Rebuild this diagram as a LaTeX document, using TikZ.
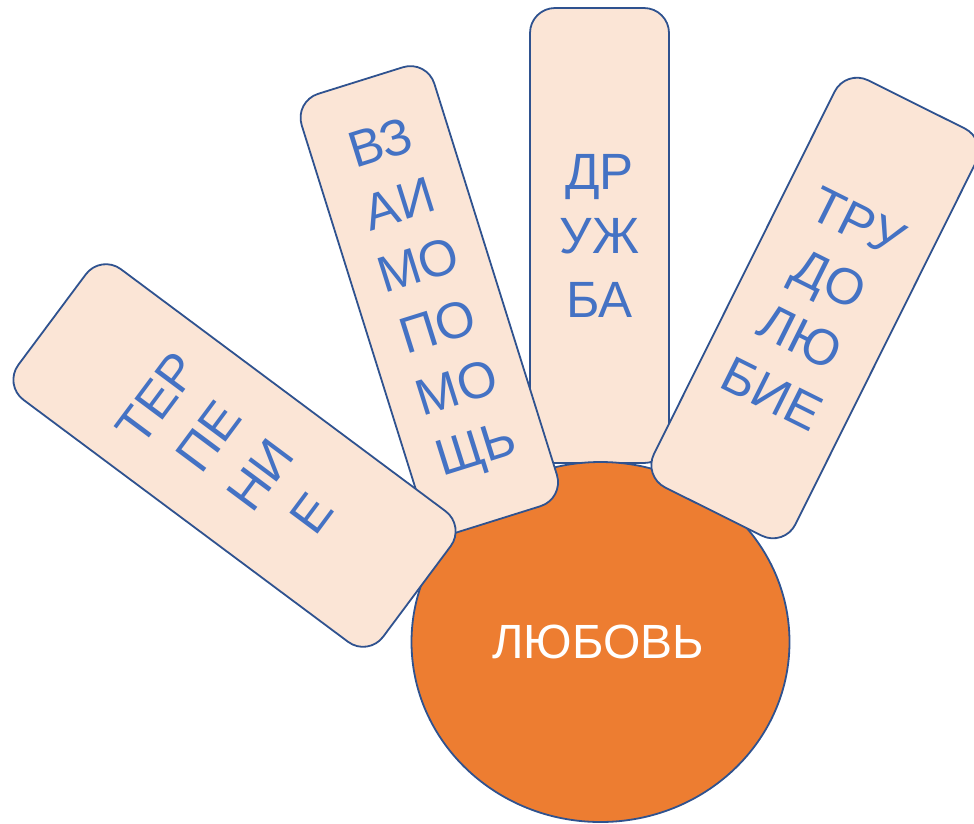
\documentclass[tikz,border=0pt]{standalone}
\usepackage{fontspec}
\setmainfont{Liberation Sans}
\usetikzlibrary{shapes.geometric}
\definecolor{edgeblue}{HTML}{2F528F}
\definecolor{peach}{HTML}{FBE5D6}
\definecolor{txtblue}{HTML}{4472C4}
\definecolor{orangefill}{HTML}{ED7D31}
\tikzset{
  card/.style={draw=edgeblue, line width=1.8pt, fill=peach, rectangle,
    rounded corners=25pt, inner sep=0pt, text=txtblue, align=center,
    font=\fontsize{51}{64}\selectfont},
  heart/.style={draw=edgeblue, line width=1.8pt, fill=orangefill, ellipse,
    inner sep=0pt, text=white, font=\fontsize{48}{56}\selectfont}
}
\begin{document}
\begin{tikzpicture}[x=1pt,y=-1pt]
\useasboundingbox (0,0) rectangle (974,823);
\clip (0,0) rectangle (974,823);
\node[card, minimum width=139pt, minimum height=455pt] (druzhba) at (599.5,235.5) {ДР\\УЖ\\БА};
\node[heart, minimum width=378pt, minimum height=360pt] (love) at (600.5,642) {};
\node[text=white, font=\fontsize{48}{56}\selectfont] (lovetext) at (598,642) {ЛЮБОВЬ};
\node[card, minimum width=139pt, minimum height=460pt, rotate=17.4] (vzaimo) at (429.3,300) {ВЗ\\АИ\\МО\\ПО\\МО\\ЩЬ};
\node[card, minimum width=158pt, minimum height=455pt, rotate=-26.5] (trudo) at (815,308) {ТРУ\\ДО\\ЛЮ\\БИЕ};
\node[card, minimum width=163pt, minimum height=455pt, rotate=53.3] (terp) at (234.5,455.5) {ТЕР\\ПЕ\\НИ\\Е};
\end{tikzpicture}
\end{document}
